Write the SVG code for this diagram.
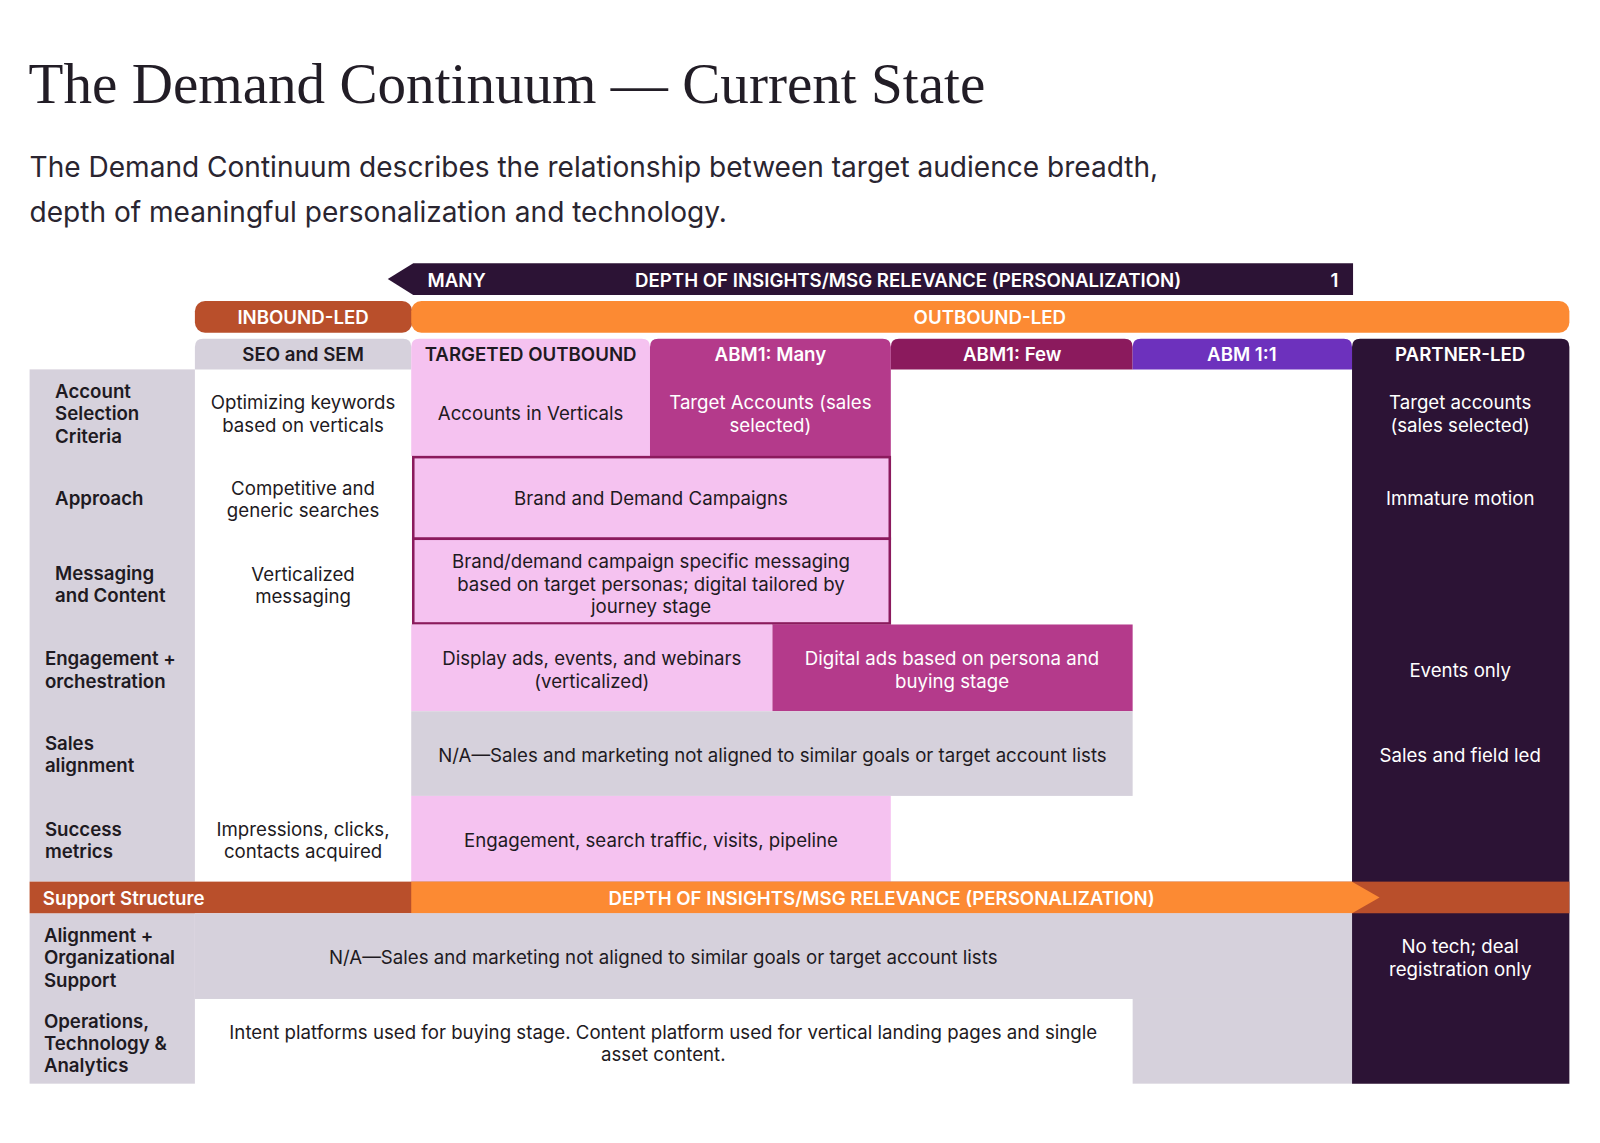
<svg xmlns="http://www.w3.org/2000/svg" width="1600" height="1143" viewBox="0 0 1600 1143">
<style>
.t{font-family:Inter,"Liberation Sans",Arial,sans-serif;font-size:18.3px;fill:#1e1a22}
.c{text-anchor:middle}
.w{fill:#ffffff}
.s{font-weight:600}
.grey{fill:#d6d1dc}
.pink{fill:#f5c2f0}
.mag{fill:#b43a8b}
.few{fill:#8b1a5d}
.one{fill:#6d31bd}
.dark{fill:#2c1335}
.rust{fill:#b94f2b}
.orng{fill:#fc8a33}
</style>
<rect width="1600" height="1143" fill="#ffffff"/>
<g transform="scale(1.0204)">
<g id="title">
<text x="28" y="101" font-family="'Liberation Serif','Times New Roman',serif" font-size="56" fill="#221d26">The Demand Continuum — Current State</text>
<text class="t" x="29" y="173" style="font-size:27.5px;fill:#2a2530">The Demand Continuum describes the relationship between target audience breadth,</text>
<text class="t" x="29" y="218" style="font-size:27.5px;fill:#2a2530">depth of meaningful personalization and technology.</text>
</g>

<g id="connectors">
<polygon class="dark" points="380,273.5 405,258 1326,258 1326,289 405,289"/>
<text class="t s w" x="419" y="281">MANY</text>
<text class="t s w c" x="890" y="281">DEPTH OF INSIGHTS/MSG RELEVANCE (PERSONALIZATION)</text>
<text class="t s w" x="1304" y="281">1</text>
</g>

<g id="inbound-led">
<rect class="rust" x="191" y="295" width="213" height="31" rx="10"/>
<text class="t s w c" x="297" y="318">INBOUND-LED</text>
</g>
<g id="outbound-led">
<rect class="orng" x="403" y="295" width="1135" height="31" rx="10"/>
<text class="t s w c" x="970" y="318">OUTBOUND-LED</text>
</g>

<g id="row-labels">
<rect class="grey" x="29" y="362" width="162" height="502"/>
<rect class="grey" x="29" y="895" width="162" height="167"/>
<text class="t s" x="54" y="390">Account</text>
<text class="t s" x="54" y="412">Selection</text>
<text class="t s" x="54" y="434">Criteria</text>
<text class="t s" x="54" y="495">Approach</text>
<text class="t s" x="54" y="568">Messaging</text>
<text class="t s" x="54" y="590">and Content</text>
<text class="t s" x="44" y="652">Engagement +</text>
<text class="t s" x="44" y="674">orchestration</text>
<text class="t s" x="44" y="735">Sales</text>
<text class="t s" x="44" y="757">alignment</text>
<text class="t s" x="44" y="819">Success</text>
<text class="t s" x="44" y="841">metrics</text>
<text class="t s" x="43" y="923">Alignment +</text>
<text class="t s" x="43" y="945">Organizational</text>
<text class="t s" x="43" y="967">Support</text>
<text class="t s" x="43" y="1007">Operations,</text>
<text class="t s" x="43" y="1029">Technology &amp;</text>
<text class="t s" x="43" y="1051">Analytics</text>
</g>

<g id="seo-sem">
<path class="grey" d="M191,362 V340 Q191,332 199,332 H395 Q403,332 403,340 V362 Z"/>
<text class="t s c" x="297" y="354">SEO and SEM</text>
<text class="t c" x="297" y="401">Optimizing keywords</text>
<text class="t c" x="297" y="423">based on verticals</text>
<text class="t c" x="297" y="485">Competitive and</text>
<text class="t c" x="297" y="507">generic searches</text>
<text class="t c" x="297" y="569">Verticalized</text>
<text class="t c" x="297" y="591">messaging</text>
<text class="t c" x="297" y="819">Impressions, clicks,</text>
<text class="t c" x="297" y="841">contacts acquired</text>
</g>

<g id="targeted-outbound">
<path class="pink" d="M403,447 V340 Q403,332 411,332 H629 Q637,332 637,340 V447 Z"/>
<text class="t s c" x="520" y="354">TARGETED OUTBOUND</text>
<text class="t c" x="520" y="412">Accounts in Verticals</text>
</g>

<g id="abm-many">
<path class="mag" d="M637,447 V340 Q637,332 645,332 H865 Q873,332 873,340 V447 Z"/>
<text class="t s w c" x="755" y="354">ABM1: Many</text>
<text class="t w c" x="755" y="401">Target Accounts (sales</text>
<text class="t w c" x="755" y="423">selected)</text>
</g>

<g id="abm-few">
<path class="few" d="M873,362 V340 Q873,332 881,332 H1102 Q1110,332 1110,340 V362 Z"/>
<text class="t s w c" x="992" y="354">ABM1: Few</text>
</g>

<g id="abm-one">
<path class="one" d="M1110,362 V340 Q1110,332 1118,332 H1317 Q1325,332 1325,340 V362 Z"/>
<text class="t s w c" x="1217" y="354">ABM 1:1</text>
</g>

<g id="partner-led">
<path class="dark" d="M1325,1062 V340 Q1325,332 1333,332 H1530 Q1538,332 1538,340 V1062 Z"/>
<text class="t s w c" x="1431" y="354">PARTNER-LED</text>
<text class="t w c" x="1431" y="401">Target accounts</text>
<text class="t w c" x="1431" y="423">(sales selected)</text>
<text class="t w c" x="1431" y="495">Immature motion</text>
<text class="t w c" x="1431" y="663">Events only</text>
<text class="t w c" x="1431" y="747">Sales and field led</text>
<text class="t w c" x="1431" y="934">No tech; deal</text>
<text class="t w c" x="1431" y="956">registration only</text>
</g>

<g id="approach-cell">
<rect class="pink" x="405" y="448" width="467" height="80" stroke="#8b1a5d" stroke-width="2.5"/>
<text class="t c" x="638" y="495">Brand and Demand Campaigns</text>
</g>
<g id="messaging-cell">
<rect class="pink" x="405" y="528" width="467" height="83" stroke="#8b1a5d" stroke-width="2.5"/>
<text class="t c" x="638" y="557">Brand/demand campaign specific messaging</text>
<text class="t c" x="638" y="579">based on target personas; digital tailored by</text>
<text class="t c" x="638" y="601">journey stage</text>
</g>

<g id="engagement-cells">
<rect class="pink" x="403" y="612" width="354" height="85"/>
<text class="t c" x="580" y="652">Display ads, events, and webinars</text>
<text class="t c" x="580" y="674">(verticalized)</text>
<rect class="mag" x="757" y="612" width="353" height="85"/>
<text class="t w c" x="933" y="652">Digital ads based on persona and</text>
<text class="t w c" x="933" y="674">buying stage</text>
</g>

<g id="sales-cell">
<rect class="grey" x="403" y="697" width="707" height="83"/>
<text class="t c" x="757" y="747">N/A—Sales and marketing not aligned to similar goals or target account lists</text>
</g>

<g id="metrics-cell">
<rect class="pink" x="403" y="780" width="470" height="84"/>
<text class="t c" x="638" y="830">Engagement, search traffic, visits, pipeline</text>
</g>

<g id="support-structure">
<rect class="rust" x="29" y="864" width="1509" height="31"/>
<polygon class="orng" points="403,864 1325,864 1352,879.5 1325,895 403,895"/>
<text class="t s w" x="42" y="887">Support Structure</text>
<text class="t s w c" x="864" y="887">DEPTH OF INSIGHTS/MSG RELEVANCE (PERSONALIZATION)</text>
</g>

<g id="alignment-cell">
<rect class="grey" x="191" y="895" width="1134" height="84"/>
<text class="t c" x="650" y="945">N/A—Sales and marketing not aligned to similar goals or target account lists</text>
</g>

<g id="operations-cell">
<rect class="grey" x="1110" y="979" width="215" height="83"/>
<text class="t c" x="650" y="1018">Intent platforms used for buying stage. Content platform used for vertical landing pages and single</text>
<text class="t c" x="650" y="1040">asset content.</text>
</g>
</g>
</svg>
